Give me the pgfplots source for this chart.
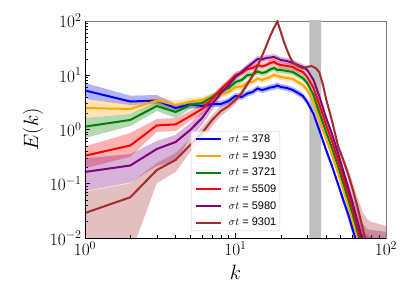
\documentclass[border=0pt]{standalone}
\usepackage{fontspec}
\setmainfont{Liberation Sans}
\usepackage{pgfplots}
\usepackage{pgfplotstable}
\pgfplotsset{compat=1.18}
\usepgfplotslibrary{fillbetween}

\definecolor{mpblue}{rgb}{0,0,1}
\definecolor{mporange}{rgb}{1,0.647,0}
\definecolor{mpgreen}{rgb}{0,0.502,0}
\definecolor{mpred}{rgb}{1,0,0}
\definecolor{mppurple}{rgb}{0.502,0,0.502}
\definecolor{mpbrown}{rgb}{0.647,0.165,0.165}

\pgfplotstableread{
k E lo hi
1 5.24 3.65 7.20
2 3.28 2.83 4.20
3 3.42 2.95 4.33
4 2.49 2.10 2.95
5 2.89 2.49 3.35
6 2.71 2.39 3.08
7 2.95 2.60 3.35
8 2.95 2.60 3.35
9 3.35 2.95 3.81
10 4.15 3.65 4.71
11 3.97 3.50 4.51
12 4.61 4.06 5.24
13 4.91 4.33 5.58
14 5.70 5.02 6.47
15 5.35 4.71 6.07
16 5.58 4.91 6.34
17 5.95 5.24 6.75
18 6.07 5.35 6.90
19 6.47 5.70 7.35
20 6.07 5.35 6.90
22 5.82 5.13 6.61
24 5.35 4.71 6.07
26 4.71 4.15 5.35
28 4.15 3.65 4.71
30 3.21 2.83 3.65
33 1.93 1.70 2.19
36 0.979 0.862 1.11
40 0.419 0.369 0.476
44 0.204 0.179 0.231
48 0.0990 0.0871 0.112
52 0.0502 0.0423 0.0594
56 0.0277 0.0224 0.0342
60 0.0146 0.0114 0.0189
65 0.00682 0.00466 0.0100
70 0.00361 0.00236 0.00601
80 0.00136 0.00073 0.00257
}\tabA

\pgfplotstableread{
k E lo hi
1 2.49 1.63 3.50
2 2.39 1.93 3.28
3 3.42 2.89 4.06
4 2.83 2.39 3.35
5 3.28 2.83 3.81
6 3.50 3.08 3.97
7 4.06 3.57 4.61
8 4.33 3.81 4.91
9 4.91 4.33 5.58
10 6.07 5.35 6.90
11 6.20 5.46 7.05
12 7.35 6.47 8.35
13 7.51 6.61 8.53
14 8.71 7.67 9.89
15 8.18 7.20 9.29
16 8.71 7.67 9.89
17 9.29 8.18 10.5
18 10.1 8.90 11.5
19 9.69 8.53 11.0
20 9.29 8.18 10.5
22 8.90 7.83 10.1
24 8.53 7.51 9.69
26 7.51 6.61 8.53
28 6.61 5.82 7.51
30 5.35 4.71 6.07
33 3.21 2.83 3.65
36 1.56 1.37 1.77
40 0.668 0.588 0.759
44 0.325 0.286 0.369
48 0.158 0.139 0.179
52 0.0767 0.0647 0.0909
56 0.0406 0.0328 0.0502
60 0.0215 0.0166 0.0277
65 0.0100 0.00682 0.0146
70 0.00466 0.00257 0.00775
80 0.00136 0.00073 0.00361
}\tabB

\pgfplotstableread{
k E lo hi
1 1.13 0.697 1.63
2 1.50 1.16 1.93
3 2.71 2.19 3.21
4 2.10 1.63 2.71
5 2.83 2.39 3.35
6 3.08 2.60 3.65
7 3.97 3.50 4.51
8 5.13 4.51 5.82
9 5.82 5.13 6.61
10 7.51 6.61 8.53
11 8.18 7.20 9.29
12 10.1 8.90 11.5
13 10.3 9.09 11.7
14 11.7 10.3 13.3
15 11.0 9.69 12.5
16 11.5 10.1 13.0
17 12.8 11.2 14.5
18 13.6 12.0 15.4
19 12.5 11.0 14.2
20 12.5 11.0 14.2
22 12.0 10.5 13.6
24 11.5 10.1 13.0
26 10.1 8.90 11.5
28 8.90 7.83 10.1
30 7.20 6.34 8.18
33 4.33 3.81 4.91
36 2.10 1.85 2.39
40 0.899 0.792 1.02
44 0.437 0.385 0.497
48 0.212 0.187 0.241
52 0.103 0.0871 0.122
56 0.0524 0.0423 0.0647
60 0.0277 0.0215 0.0357
65 0.0124 0.00880 0.0174
70 0.00576 0.00361 0.00919
80 0.00136 0.00073 0.00428
}\tabC

\pgfplotstableread{
k E lo hi
1 0.329 0.193 0.486
2 0.507 0.315 0.862
3 1.19 0.899 1.56
4 1.24 0.938 1.63
5 1.77 1.43 2.19
6 2.39 1.93 2.95
7 3.65 3.08 4.33
8 5.58 4.91 6.34
9 7.51 6.61 8.53
10 10.1 8.90 11.5
11 11.0 9.69 12.5
12 13.0 11.5 14.8
13 13.6 12.0 15.4
14 15.4 13.6 17.5
15 14.5 12.8 16.4
16 15.4 13.6 17.5
17 16.8 14.8 19.1
18 17.5 15.4 19.9
19 16.1 14.2 18.3
20 15.4 13.6 17.5
22 14.8 13.0 16.8
24 14.2 12.5 16.1
26 12.5 11.0 14.2
28 11.5 10.1 13.0
30 9.29 8.18 10.5
33 5.82 5.13 6.61
36 2.95 2.60 3.35
40 1.21 1.07 1.37
44 0.588 0.518 0.668
48 0.274 0.241 0.310
52 0.133 0.112 0.158
56 0.0675 0.0546 0.0835
60 0.0357 0.0265 0.0480
65 0.0153 0.00919 0.0234
70 0.00712 0.00361 0.0129
80 0.00236 0.00073 0.0100
90 0.0011 0.0005 0.0085
100 0.00073 0.0003 0.00775
}\tabD

\pgfplotstableread{
k E lo hi
1 0.165 0.0735 0.294
2 0.217 0.105 0.353
3 0.437 0.212 0.614
4 0.588 0.263 0.792
5 0.979 0.697 1.32
6 1.63 1.21 2.10
7 2.95 2.29 3.65
8 4.71 3.97 5.58
9 6.61 5.82 7.51
10 9.29 8.18 10.5
11 11.5 10.1 13.0
12 14.2 12.5 16.1
13 16.8 14.8 19.1
14 19.9 17.5 22.6
15 19.5 17.1 22.1
16 20.8 18.3 23.6
17 21.2 18.7 24.1
18 21.7 19.1 24.6
19 20.4 17.9 23.1
20 19.1 16.8 21.7
22 18.3 16.1 20.8
24 16.8 14.8 19.1
26 15.4 13.6 17.5
28 14.2 12.5 16.1
30 12.5 11.0 14.2
33 8.18 7.20 9.29
36 4.15 3.65 4.71
40 1.63 1.43 1.85
44 0.792 0.697 0.899
48 0.369 0.325 0.419
52 0.172 0.145 0.204
56 0.0871 0.0705 0.108
60 0.0442 0.0328 0.0594
65 0.0189 0.0109 0.0301
70 0.00880 0.00361 0.0181
75 0.00428 0.00073 0.0146
80 0.00236 0.0003 0.0140
90 0.0011 0.0002 0.0135
100 0.00073 0.0001 0.0129
}\tabE

\pgfplotstableread{
k E lo hi
1 0.0289 0.0005 0.072
2 0.0563 0.00486 0.102
3 0.179 0.102 0.241
4 0.274 0.165 0.369
5 0.518 0.385 0.668
6 0.862 0.640 1.11
7 1.50 1.16 1.85
8 2.19 1.77 2.71
9 2.71 2.29 3.21
10 3.50 2.95 4.15
11 4.71 4.15 5.35
12 6.90 6.07 7.83
13 9.69 8.90 10.5
14 14.8 13.6 16.1
15 22.6 20.8 24.6
16 34.6 31.8 37.7
17 52.9 49.7 56.4
18 74.3 69.7 79.2
19 97.9 93.8 102
20 62.7 58.9 66.8
21 41.0 38.5 43.8
22 29.2 27.4 31.1
23 21.7 20.4 23.1
24 17.5 16.4 18.7
26 14.8 13.9 15.8
28 13.6 12.8 14.5
30 14.2 13.3 15.1
32 14.8 13.9 15.8
34 13.6 12.8 14.5
36 11.5 10.8 12.2
38 6.90 6.34 7.51
40 3.65 3.35 3.97
44 1.37 1.21 1.56
48 0.497 0.437 0.564
52 0.274 0.231 0.325
56 0.151 0.122 0.187
60 0.0800 0.0594 0.108
65 0.0357 0.0234 0.0524
70 0.0153 0.00712 0.0301
75 0.00682 0.00073 0.0224
80 0.00361 0.0002 0.0197
90 0.00136 0.0001 0.0181
100 0.00073 0.0001 0.0166
}\tabF

\begin{document}
\begin{tikzpicture}
\begin{axis}[
  at={(0,0)}, anchor=south west,
  scale only axis, width=301pt, height=217pt,
  xmode=log, ymode=log,
  xmin=1, xmax=100, ymin=1e-2, ymax=1e2,
  clip mode=individual,
  tick align=inside, tick pos=left,
  major tick length=5pt, minor tick length=3pt,
  every tick/.style={black, line width=0.6pt},
  axis line style={draw=gray, line width=0.8pt},
  tick label style={font=\fontsize{17}{17}\selectfont},
  xlabel={$k$}, ylabel={$E(k)$},
  every axis x label/.style={at={(axis description cs:0.5,-0.157)}, anchor=center, font=\fontsize{22}{22}\selectfont},
  every axis y label/.style={at={(axis description cs:-0.173,0.5)}, anchor=center, rotate=90, font=\fontsize{22}{22}\selectfont},
  legend style={at={(0.5,0.032)}, anchor=south, font=\fontsize{11}{13}\selectfont,
    draw=black!20, rounded corners=2pt, fill=white, fill opacity=0.8, text opacity=1,
    nodes={inner sep=0pt}, row sep=7.5pt, column sep=7pt,
    inner xsep=3.5pt, inner ysep=3.5pt},
  legend cell align=left,
  legend image code/.code={\draw[#1, line width=2pt] (0pt,0pt) -- (25pt,0pt);},
]
\addplot[fill=gray!50, draw=none, forget plot] coordinates {(31,0.005) (37,0.005) (37,200) (31,200) (31,0.005)};

% blue
\addplot[name path=ahi, draw=none, forget plot] table[x=k,y=hi]{\tabA};
\addplot[name path=alo, draw=none, forget plot] table[x=k,y=lo]{\tabA};
\addplot[fill=mpblue, fill opacity=0.3, draw=none, forget plot] fill between[of=ahi and alo];
% orange
\addplot[name path=bhi, draw=none, forget plot] table[x=k,y=hi]{\tabB};
\addplot[name path=blo, draw=none, forget plot] table[x=k,y=lo]{\tabB};
\addplot[fill=mporange, fill opacity=0.3, draw=none, forget plot] fill between[of=bhi and blo];
% green
\addplot[name path=chi, draw=none, forget plot] table[x=k,y=hi]{\tabC};
\addplot[name path=clo, draw=none, forget plot] table[x=k,y=lo]{\tabC};
\addplot[fill=mpgreen, fill opacity=0.3, draw=none, forget plot] fill between[of=chi and clo];
% red
\addplot[name path=dhi, draw=none, forget plot] table[x=k,y=hi]{\tabD};
\addplot[name path=dlo, draw=none, forget plot] table[x=k,y=lo]{\tabD};
\addplot[fill=mpred, fill opacity=0.3, draw=none, forget plot] fill between[of=dhi and dlo];
% purple
\addplot[name path=ehi, draw=none, forget plot] table[x=k,y=hi]{\tabE};
\addplot[name path=elo, draw=none, forget plot] table[x=k,y=lo]{\tabE};
\addplot[fill=mppurple, fill opacity=0.3, draw=none, forget plot] fill between[of=ehi and elo];
% brown
\addplot[name path=fhi, draw=none, forget plot] table[x=k,y=hi]{\tabF};
\addplot[name path=flo, draw=none, forget plot] table[x=k,y=lo]{\tabF};
\addplot[fill=mpbrown, fill opacity=0.3, draw=none, forget plot] fill between[of=fhi and flo];

\addplot[mpblue, line width=2pt] table[x=k,y=E]{\tabA};
\addlegendentry{$\sigma t$ = 378}
\addplot[mporange, line width=2pt] table[x=k,y=E]{\tabB};
\addlegendentry{$\sigma t$ = 1930}
\addplot[mpgreen, line width=2pt] table[x=k,y=E]{\tabC};
\addlegendentry{$\sigma t$ = 3721}
\addplot[mpred, line width=2pt] table[x=k,y=E]{\tabD};
\addlegendentry{$\sigma t$ = 5509}
\addplot[mppurple, line width=2pt] table[x=k,y=E]{\tabE};
\addlegendentry{$\sigma t$ = 5980}
\addplot[mpbrown, line width=2pt] table[x=k,y=E]{\tabF};
\addlegendentry{$\sigma t$ = 9301}

\draw[black, line width=0.8pt] (rel axis cs:0,1) -- (rel axis cs:0,0) -- (rel axis cs:1,0);
\end{axis}
\pgfresetboundingbox
\path[use as bounding box] (-85pt,-67pt) rectangle (322pt,238pt);
\end{tikzpicture}
\end{document}
